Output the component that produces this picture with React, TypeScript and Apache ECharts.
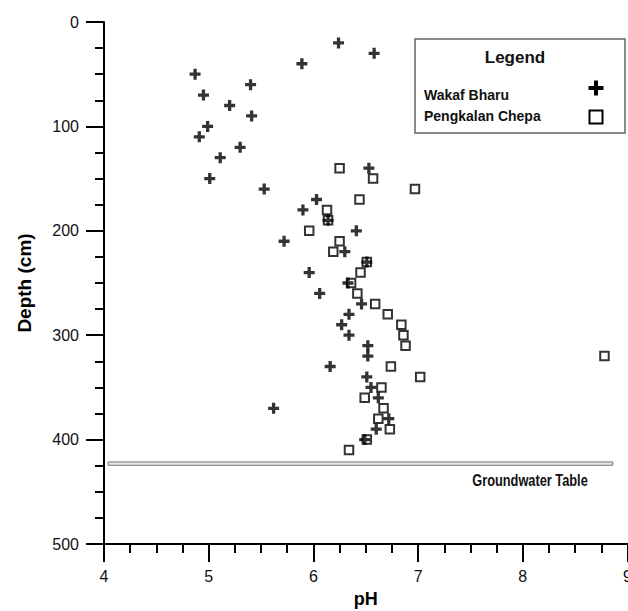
import React, { useEffect, useRef } from "react";
import * as echarts from "echarts";

// ---- Data ----
const wakafBharuDepth = [20, 30, 40, 50, 60, 70, 80, 90, 100, 110, 120, 130, 140, 150, 160, 170, 180, 190, 200, 210, 220, 230, 240, 250, 260, 270, 280, 290, 300, 310, 320, 330, 340, 350, 360, 370, 380, 390, 400];
const wakafBharuPH = [6.24, 6.58, 5.89, 4.87, 5.4, 4.95, 5.2, 5.41, 4.99, 4.91, 5.3, 5.11, 6.53, 5.01, 5.53, 6.03, 5.9, 6.14, 6.41, 5.72, 6.3, 6.51, 5.96, 6.33, 6.06, 6.46, 6.34, 6.27, 6.34, 6.52, 6.52, 6.16, 6.51, 6.55, 6.62, 5.62, 6.72, 6.6, 6.49];

const pengkalanDepth = [140, 150, 160, 170, 180, 190, 200, 210, 220, 230, 240, 250, 260, 270, 280, 290, 300, 310, 320, 330, 340, 350, 360, 370, 380, 390, 400, 410];
const pengkalanPH = [6.25, 6.57, 6.97, 6.44, 6.13, 6.14, 5.96, 6.25, 6.19, 6.51, 6.45, 6.36, 6.42, 6.59, 6.71, 6.84, 6.86, 6.88, 8.78, 6.74, 7.02, 6.65, 6.49, 6.67, 6.62, 6.73, 6.51, 6.34];

const seriesNames = ["Wakaf Bharu", "Pengkalan Chepa"];
const groundwaterDepth = 423;
const groundwaterPHRange = [4.04, 8.86];
const groundwaterLabel = "Groundwater Table";

const FONT = "'Liberation Sans', Arial, Helvetica, sans-serif";
const PLUS = "path://M3.5,0H6.5V3.5H10V6.5H6.5V10H3.5V6.5H0V3.5H3.5Z";
const W = 628;
const H = 611;

function plusPoints(cx: number, cy: number, h: number, t: number) {
  return [
    [cx - t, cy - h], [cx + t, cy - h], [cx + t, cy - t], [cx + h, cy - t],
    [cx + h, cy + t], [cx + t, cy + t], [cx + t, cy + h], [cx - t, cy + h],
    [cx - t, cy + t], [cx - h, cy + t], [cx - h, cy - t], [cx - t, cy - t],
  ];
}

export default function App() {
  const ref = useRef<HTMLDivElement>(null);
  useEffect(() => {
    if (!ref.current) return;
    const chart = echarts.init(ref.current, undefined, { renderer: "svg", width: W, height: H });
    const axisCommon = {
      type: "value" as const,
      splitLine: { show: false },
      axisLine: { show: true, onZero: false, lineStyle: { color: "#000", width: 2 } },
      axisTick: { show: true, inside: false, length: 18, lineStyle: { color: "#000", width: 2 } },
      minorTick: { show: true, splitNumber: 4, length: 9, lineStyle: { color: "#000", width: 2 } },
      axisLabel: { color: "#111", fontSize: 16, fontFamily: FONT },
      nameTextStyle: { color: "#000", fontSize: 18, fontWeight: "bold" as const, fontFamily: FONT },
    };
    chart.setOption({
      animation: false,
      backgroundColor: "#fff",
      grid: { left: 104, top: 22, right: 0.5, bottom: 67, containLabel: false, outerBoundsMode: "none" },
      xAxis: {
        ...axisCommon,
        min: 4,
        max: 9,
        interval: 1,
        position: "bottom",
        name: "pH",
        nameLocation: "middle",
        nameGap: 46,
        axisLabel: { ...axisCommon.axisLabel, margin: 24 },
      },
      yAxis: {
        ...axisCommon,
        min: 0,
        max: 500,
        interval: 100,
        inverse: true,
        position: "left",
        name: "Depth (cm)",
        nameLocation: "middle",
        nameGap: 70,
        nameTextStyle: { ...axisCommon.nameTextStyle, fontSize: 19 },
        axisLabel: { ...axisCommon.axisLabel, margin: 25 },
      },
      series: [
        {
          name: seriesNames[1],
          type: "scatter",
          symbol: "rect",
          symbolSize: 8.5,
          itemStyle: { color: "rgba(255,255,255,0)", borderColor: "#000", borderWidth: 2 },
          data: pengkalanPH.map((p, i) => [p, pengkalanDepth[i]]),
          markArea: {
            silent: true,
            itemStyle: { color: "#e4e4e4", borderColor: "#777", borderWidth: 1 },
            data: [[
              { xAxis: groundwaterPHRange[0], yAxis: groundwaterDepth - 1.6 },
              { xAxis: groundwaterPHRange[1], yAxis: groundwaterDepth + 1.6 },
            ]],
          },
        },
        {
          name: seriesNames[0],
          type: "scatter",
          symbol: PLUS,
          symbolSize: 11,
          itemStyle: { color: "#000" },
          data: wakafBharuPH.map((p, i) => [p, wakafBharuDepth[i]]),
        },
      ],
      graphic: [
        {
          type: "text",
          x: 530,
          y: 480,
          scaleX: 0.8,
          style: {
            text: groundwaterLabel,
            fill: "#111",
            fontSize: 16,
            fontWeight: "bold",
            fontFamily: FONT,
            textAlign: "center",
            textVerticalAlign: "middle",
          },
        },
        {
          type: "rect",
          shape: { x: 415, y: 39, width: 210, height: 94 },
          style: { fill: "#fff", stroke: "#666", lineWidth: 1.5 },
        },
        {
          type: "text",
          x: 515,
          y: 57,
          style: {
            text: "Legend",
            fill: "#111",
            fontSize: 17,
            fontWeight: "bold",
            fontFamily: FONT,
            textAlign: "center",
            textVerticalAlign: "middle",
          },
        },
        {
          type: "text",
          x: 424,
          y: 95,
          style: {
            text: seriesNames[0],
            fill: "#111",
            fontSize: 14,
            fontWeight: "bold",
            fontFamily: FONT,
            textAlign: "left",
            textVerticalAlign: "middle",
          },
        },
        {
          type: "text",
          x: 424,
          y: 116,
          style: {
            text: seriesNames[1],
            fill: "#111",
            fontSize: 14,
            fontWeight: "bold",
            fontFamily: FONT,
            textAlign: "left",
            textVerticalAlign: "middle",
          },
        },
        {
          type: "polygon",
          shape: { points: plusPoints(596, 88, 7.5, 2) },
          style: { fill: "#000" },
        },
        {
          type: "rect",
          shape: { x: 589.5, y: 110.5, width: 13, height: 13 },
          style: { fill: "none", stroke: "#000", lineWidth: 2 },
        },
      ],
    });
    return () => chart.dispose();
  }, []);
  return (
    <div
      ref={ref}
      style={{ position: "fixed", left: 0, top: 0, width: W, height: H, background: "#fff" }}
    />
  );
}
